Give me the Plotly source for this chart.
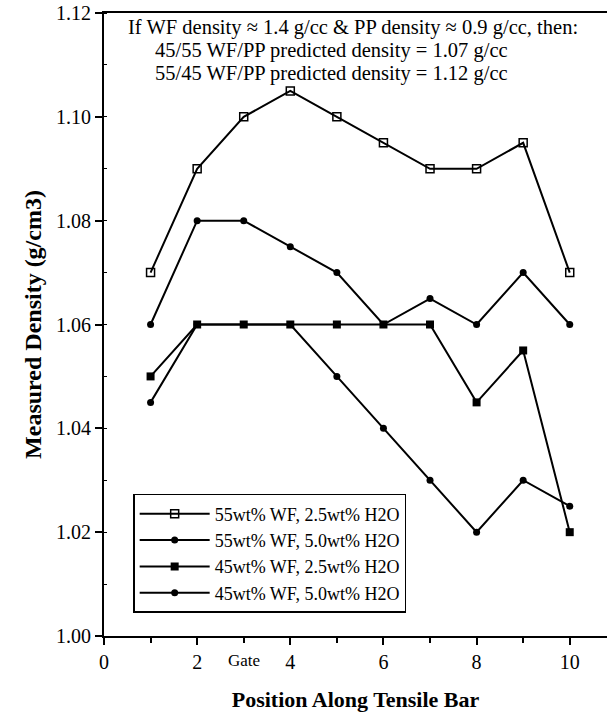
import plotly.graph_objects as go

# Gate positions along the tensile bar
positions = [1, 2, 3, 4, 5, 6, 7, 8, 9, 10]

# Measured density (g/cm3) for each blend
wf55_h2o25 = [1.070, 1.090, 1.100, 1.105, 1.100, 1.095, 1.090, 1.090, 1.095, 1.070]
wf55_h2o50 = [1.060, 1.080, 1.080, 1.075, 1.070, 1.060, 1.065, 1.060, 1.070, 1.060]
wf45_h2o25 = [1.050, 1.060, 1.060, 1.060, 1.060, 1.060, 1.060, 1.045, 1.055, 1.020]
wf45_h2o50 = [1.045, 1.060, 1.060, 1.060, 1.050, 1.040, 1.030, 1.020, 1.030, 1.025]

series_names = [
    "55wt% WF, 2.5wt% H2O",
    "55wt% WF, 5.0wt% H2O",
    "45wt% WF, 2.5wt% H2O",
    "45wt% WF, 5.0wt% H2O",
]

x_tick_vals = [0, 2, 4, 6, 8, 10]
y_tick_vals = [1.00, 1.02, 1.04, 1.06, 1.08, 1.10, 1.12]

note_lines = [
    "If WF density \u2248 1.4 g/cc & PP density \u2248 0.9 g/cc, then:",
    "45/55 WF/PP predicted density = 1.07 g/cc",
    "55/45 WF/PP predicted density = 1.12 g/cc",
]

FONT = "Liberation Serif"

fig = go.Figure()

markers = [
    dict(symbol="square-open", size=8, color="black", line=dict(width=1.5, color="black")),
    dict(symbol="circle", size=7, color="black"),
    dict(symbol="square", size=8, color="black"),
    dict(symbol="circle", size=7, color="black"),
]

for vals, name, mk in zip([wf55_h2o25, wf55_h2o50, wf45_h2o25, wf45_h2o50], series_names, markers):
    fig.add_trace(go.Scatter(
        x=positions, y=vals, name=name, mode="lines+markers",
        line=dict(color="black", width=2),
        marker=mk,
    ))

# Explanatory note at the top of the plot
note_pos = [(0.044, 0.976), (0.097, 0.940), (0.097, 0.903)]
for text, (px, py) in zip(note_lines, note_pos):
    fig.add_annotation(
        x=px, y=py, xref="paper", yref="paper", text=text, showarrow=False,
        xanchor="left", yanchor="middle", font=dict(family=FONT, size=20.5, color="black"),
    )

# Gate marker below the axis
fig.add_annotation(
    x=3, y=0, xref="x", yref="paper", text="Gate", showarrow=False,
    xanchor="center", yanchor="top", yshift=-13,
    font=dict(family=FONT, size=17, color="black"),
)

fig.update_layout(
    width=607, height=715,
    margin=dict(l=104, r=0, t=13, b=79),
    paper_bgcolor="white", plot_bgcolor="white",
    font=dict(family=FONT, size=20, color="black"),
    legend=dict(
        x=0.058, y=0.228, xanchor="left", yanchor="top",
        bordercolor="black", borderwidth=1.5, bgcolor="white",
        font=dict(family=FONT, size=18), itemwidth=70,
        tracegroupgap=0,
    ),
)

fig.update_xaxes(
    range=[0, 10.8], tickvals=x_tick_vals, ticks="outside", ticklen=7, tickwidth=1.5,
    tickcolor="black", showline=True, linecolor="black", linewidth=2, mirror=True,
    showgrid=False, zeroline=False, tickfont=dict(family=FONT, size=20),
    minor=dict(dtick=1, tick0=0, ticks="outside", ticklen=5, tickwidth=1.5, tickcolor="black"),
    title=dict(text="<b>Position Along Tensile Bar</b>", font=dict(family=FONT, size=22), standoff=20),
)
fig.update_yaxes(
    range=[1.00, 1.12], tickvals=y_tick_vals, tickformat=".2f", ticks="outside", ticklen=7,
    tickwidth=1.5, tickcolor="black", showline=True, linecolor="black", linewidth=2,
    showgrid=False, zeroline=False, tickfont=dict(family=FONT, size=20),
    minor=dict(dtick=0.01, tick0=1.0, ticks="inside", ticklen=3, tickwidth=1, tickcolor="black"),
    title=dict(text="<b>Measured Density (g/cm3)</b>", font=dict(family=FONT, size=24), standoff=8),
)

fig.write_html("out.html")
